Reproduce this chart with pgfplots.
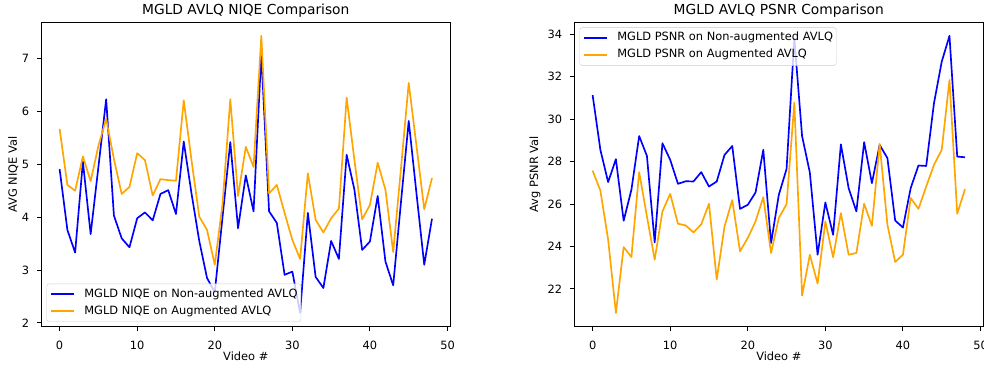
\documentclass[border=0pt]{standalone}
\usepackage{pgfplots}
\pgfplotsset{compat=1.18}
\usepackage{fontspec}
\setmainfont{DejaVu Sans}
\definecolor{mplblue}{RGB}{0,0,255}
\definecolor{mplorange}{RGB}{255,165,0}
\newcommand{\lblfont}{\fontsize{11.4}{13.5}\selectfont}
\newcommand{\ttlfont}{\fontsize{13.8}{16.5}\selectfont}
\pgfplotsset{
  mplstyle/.style={
    scale only axis, width=409.6pt, height=304.7pt,
    anchor=south west,
    axis line style={black, line width=0.89pt},
    tick align=outside, tick pos=left,
    major tick length=3.9pt,
    tick style={black, line width=0.89pt},
    every tick label/.append style={inner sep=0pt, font=\lblfont},
    xticklabel shift=10pt, yticklabel shift=7.7pt,
    /pgf/number format/assume math mode=true,
    label style={font=\lblfont},
    xlabel style={at={(axis description cs:0.5,-0.0962)}, anchor=center},
    every axis title shift=0pt,
    title style={at={(axis description cs:0.5,1)}, anchor=base, yshift=7pt, font=\ttlfont},
    xmin=-2.4, xmax=50.4,
    xtick={0,10,20,30,40,50},
    legend cell align=left,
    legend image code/.code={\draw[#1] (0pt,0pt) -- (22.5pt,0pt); \path (32.5pt,0pt);},
    legend style={draw=black!20, rounded corners=2.5pt, fill=white, fill opacity=0.8, text opacity=1, draw opacity=1,
      font=\lblfont, inner xsep=3.5pt, inner ysep=5pt, row sep=6.3pt,
      nodes={inner sep=0pt, text height=8.2pt, text depth=2.5pt}},
    every axis plot/.append style={line width=1.67pt, line join=round},
  }
}
\begin{document}
\begin{tikzpicture}[x=1pt,y=1pt]
\path[use as bounding box] (0,0) rectangle (984,364);
\begin{axis}[mplstyle, at={(41pt,37.3pt)},
  ymin=1.928, ymax=7.692, ytick={2,3,4,5,6,7},
  title={MGLD AVLQ NIQE Comparison},
  xlabel={Video \#}, ylabel={AVG NIQE Val},
  ylabel style={at={(axis description cs:-0.0676,0.5)}, anchor=center},
  legend style={at={(axis description cs:0,0)}, anchor=south west, xshift=5.5pt, yshift=5pt}]
\addplot[mplblue] coordinates {
(0,4.91) (1,3.76) (2,3.33) (3,5.05) (4,3.68) (5,4.95) (6,6.23) (7,4.03) (8,3.60) (9,3.43)
(10,3.98) (11,4.09) (12,3.94) (13,4.44) (14,4.51) (15,4.06) (16,5.43) (17,4.45) (18,3.55) (19,2.85)
(20,2.58) (21,4.00) (22,5.42) (23,3.79) (24,4.79) (25,4.11) (26,7.09) (27,4.11) (28,3.89) (29,2.91)
(30,2.97) (31,2.19) (32,4.08) (33,2.87) (34,2.66) (35,3.55) (36,3.21) (37,5.18) (38,4.52) (39,3.38)
(40,3.54) (41,4.40) (42,3.16) (43,2.71) (44,4.28) (45,5.82) (46,4.45) (47,3.10) (48,3.97)};
\addlegendentry{MGLD NIQE on Non-augmented AVLQ}
\addplot[mplorange] coordinates {
(0,5.67) (1,4.61) (2,4.50) (3,5.15) (4,4.68) (5,5.35) (6,5.86) (7,5.10) (8,4.44) (9,4.57)
(10,5.21) (11,5.08) (12,4.41) (13,4.72) (14,4.70) (15,4.69) (16,6.21) (17,5.08) (18,4.01) (19,3.76)
(20,3.10) (21,4.25) (22,6.23) (23,4.40) (24,5.33) (25,4.95) (26,7.43) (27,4.45) (28,4.61) (29,4.08)
(30,3.57) (31,3.21) (32,4.83) (33,3.95) (34,3.71) (35,3.98) (36,4.16) (37,6.26) (38,5.08) (39,3.96)
(40,4.23) (41,5.03) (42,4.52) (43,3.34) (44,4.92) (45,6.54) (46,5.35) (47,4.15) (48,4.74)};
\addlegendentry{MGLD NIQE on Augmented AVLQ}
\end{axis}
\begin{axis}[mplstyle, at={(574pt,37.3pt)},
  ymin=20.22, ymax=34.57, ytick={22,24,26,28,30,32,34},
  title={MGLD AVLQ PSNR Comparison},
  xlabel={Video \#}, ylabel={Avg PSNR Val},
  ylabel style={at={(axis description cs:-0.0952,0.5)}, anchor=center},
  legend style={at={(axis description cs:0,1)}, anchor=north west, xshift=5.5pt, yshift=-5.5pt}]
\addplot[mplblue] coordinates {
(0,31.13) (1,28.55) (2,27.03) (3,28.11) (4,25.21) (5,26.67) (6,29.20) (7,28.26) (8,24.19) (9,28.86)
(10,28.08) (11,26.95) (12,27.07) (13,27.06) (14,27.50) (15,26.82) (16,27.06) (17,28.31) (18,28.73) (19,25.77)
(20,25.96) (21,26.54) (22,28.55) (23,24.16) (24,26.43) (25,27.65) (26,33.80) (27,29.20) (28,27.48) (29,23.61)
(30,26.07) (31,24.55) (32,28.81) (33,26.75) (34,25.65) (35,28.91) (36,26.98) (37,28.78) (38,28.16) (39,25.22)
(40,24.89) (41,26.75) (42,27.81) (43,27.79) (44,30.74) (45,32.70) (46,33.92) (47,28.23) (48,28.20)};
\addlegendentry{MGLD PSNR on Non-augmented AVLQ}
\addplot[mplorange] coordinates {
(0,27.57) (1,26.63) (2,24.32) (3,20.87) (4,23.97) (5,23.50) (6,27.50) (7,25.41) (8,23.38) (9,25.65)
(10,26.48) (11,25.07) (12,24.99) (13,24.66) (14,25.04) (15,26.01) (16,22.44) (17,24.94) (18,26.18) (19,23.77)
(20,24.40) (21,25.18) (22,26.32) (23,23.69) (24,25.34) (25,25.99) (26,30.77) (27,21.69) (28,23.61) (29,22.25)
(30,25.18) (31,23.49) (32,25.57) (33,23.61) (34,23.69) (35,26.01) (36,24.97) (37,28.83) (38,25.02) (39,23.27)
(40,23.61) (41,26.28) (42,25.77) (43,26.82) (44,27.84) (45,28.55) (46,31.84) (47,25.54) (48,26.70)};
\addlegendentry{MGLD PSNR on Augmented AVLQ}
\end{axis}
\end{tikzpicture}
\end{document}
